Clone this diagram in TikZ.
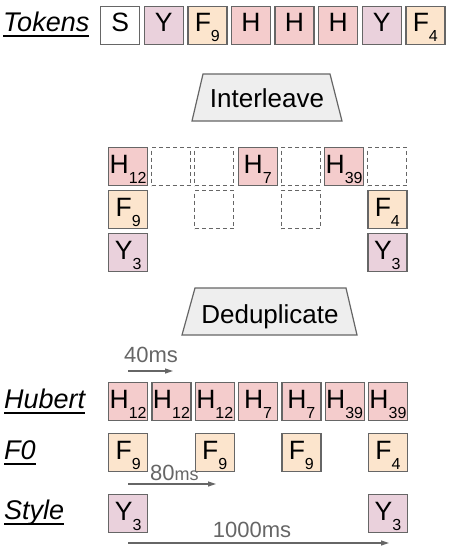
\documentclass[tikz,border=0pt]{standalone}
\usepackage{fontspec}
\setmainfont{Liberation Sans}
\usetikzlibrary{arrows.meta}
\definecolor{hcol}{HTML}{F4CCCC}
\definecolor{fcol}{HTML}{FCE5CD}
\definecolor{ycol}{HTML}{EAD1DC}
\definecolor{bcol}{HTML}{666666}
\definecolor{tcol}{HTML}{EEEEEE}
\definecolor{mcol}{HTML}{666666}
\newcommand\tk[2]{#1\smash{\raisebox{-10pt}{\fontsize{16}{16}\selectfont #2}}}
\newcommand\ulab[1]{\setbox0\hbox{#1}\rlap{\rule[-5.5pt]{\wd0}{1.8pt}}\box0}
\begin{document}
\begin{tikzpicture}[x=1pt,y=-1pt,
 tokbox/.style={draw=bcol, line width=1.3pt, minimum width=39pt, minimum height=38pt,
   inner sep=0pt, text height=19pt, text depth=6pt, font=\fontsize{26.5}{26.5}\selectfont, anchor=north west},
 hbox/.style={tokbox, fill=hcol},
 fbox/.style={tokbox, fill=fcol},
 ybox/.style={tokbox, fill=ycol},
 sbox/.style={tokbox, fill=white},
 emptybox/.style={draw=bcol, line width=1pt, dash pattern=on 4pt off 3pt, minimum width=39pt,
   minimum height=38pt, inner sep=0pt, anchor=north west},
 rowlabel/.style={anchor=base west, font=\fontsize{27}{27}\selectfont\itshape, inner sep=0pt},
 trap/.style={draw=bcol, fill=tcol, line width=1.2pt},
 traptext/.style={anchor=base, font=\fontsize{26}{26}\selectfont, inner sep=0pt},
 mtext/.style={anchor=base, text=mcol, font=\fontsize{22}{22}\selectfont, inner sep=0pt},
 marrow/.style={draw=mcol, line width=1.2pt, -{Triangle[length=8pt,width=5pt]}}]
\useasboundingbox (0,0) rectangle (449,547);

% Tokens row
\node[rowlabel] (ltok) at (3,31.5) {\ulab{Tokens}};
\node[sbox] (t0) at (100,5.5) {S};
\node[ybox] (t1) at (143.6,5.5) {Y};
\node[fbox] (t2) at (187.2,5.5) {\tk{F}{9}};
\node[hbox] (t3) at (230.8,5.5) {H};
\node[hbox] (t4) at (274.4,5.5) {H};
\node[hbox] (t5) at (318,5.5) {H};
\node[ybox] (t6) at (361.6,5.5) {Y};
\node[fbox] (t7) at (405.2,5.5) {\tk{F}{4}};

% Interleave
\draw[trap] (203,74) -- (330,74) -- (342,121) -- (192,121) -- cycle;
\node[traptext] (interleave) at (267,107) {Interleave};

\node[hbox] (i00) at (108,147) {\tk{H}{12}};
\node[emptybox] (i01) at (151.2,147) {};
\node[emptybox] (i02) at (194.4,147) {};
\node[hbox] (i03) at (237.6,147) {\tk{H}{7}};
\node[emptybox] (i04) at (280.8,147) {};
\node[hbox] (i05) at (324,147) {\tk{H}{39}};
\node[emptybox] (i06) at (367.2,147) {};

\node[fbox] (i10) at (108,190) {\tk{F}{9}};
\node[emptybox] (i12) at (194.4,190) {};
\node[emptybox] (i14) at (280.8,190) {};
\node[fbox] (i16) at (367.2,190) {\tk{F}{4}};

\node[ybox] (i20) at (108,233) {\tk{Y}{3}};
\node[ybox] (i26) at (367.2,233) {\tk{Y}{3}};

% Deduplicate
\draw[trap] (195,288) -- (346,288) -- (357,335) -- (182,335) -- cycle;
\node[traptext] (dedup) at (270,323) {Deduplicate};

\node[mtext] (m40) at (151,362) {40ms};
\coordinate (a40s) at (128,371);
\coordinate (a40e) at (173,371);
\draw[marrow] (a40s) -- (a40e);

\node[rowlabel] (lhub) at (4,408) {\ulab{Hubert}};
\node[hbox] (h0) at (108,382) {\tk{H}{12}};
\node[hbox] (h1) at (151.3,382) {\tk{H}{12}};
\node[hbox] (h2) at (194.6,382) {\tk{H}{12}};
\node[hbox] (h3) at (237.9,382) {\tk{H}{7}};
\node[hbox] (h4) at (281.2,382) {\tk{H}{7}};
\node[hbox] (h5) at (324.5,382) {\tk{H}{39}};
\node[hbox] (h6) at (367.8,382) {\tk{H}{39}};

\node[rowlabel] (lf0) at (4,459) {\ulab{F0}};
\node[fbox] (f0) at (108,433) {\tk{F}{9}};
\node[fbox] (f2) at (194.6,433) {\tk{F}{9}};
\node[fbox] (f4) at (281.2,433) {\tk{F}{9}};
\node[fbox] (f6) at (367.8,433) {\tk{F}{4}};

\node[mtext, anchor=base west] (m80) at (150,480) {80{\fontsize{18}{18}\selectfont ms}};
\coordinate (a80s) at (128,484);
\coordinate (a80e) at (216,484);
\draw[marrow] (a80s) -- (a80e);

\node[rowlabel] (lsty) at (4,519) {\ulab{Style}};
\node[ybox] (s0) at (108,494) {\tk{Y}{3}};
\node[ybox] (s6) at (367.8,494) {\tk{Y}{3}};

\node[mtext] (m1000) at (252,537) {1000ms};
\coordinate (a1000s) at (128,543);
\coordinate (a1000e) at (389,543);
\draw[marrow] (a1000s) -- (a1000e);
\end{tikzpicture}
\end{document}
